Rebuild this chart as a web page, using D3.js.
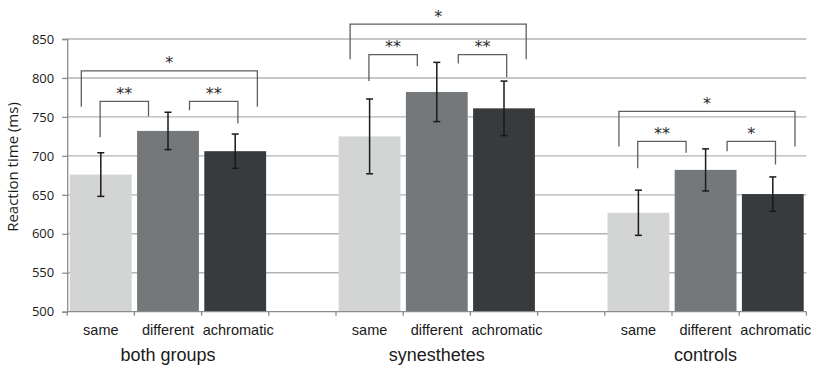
<!DOCTYPE html>
<html>
<head>
<meta charset="utf-8">
<script src="https://cdn.jsdelivr.net/npm/d3@7"></script>
<style>
  html, body { margin: 0; padding: 0; background: #fff; }
  svg { display: block; }
</style>
</head>
<body>
<div id="chart"></div>
<script>
// ---------------- data ----------------
const groups = ["both groups", "synesthetes", "controls"];
const conditions = ["same", "different", "achromatic"];
const bothMeans = [676, 732, 706];
const bothErrors = [28, 24, 22];
const synMeans = [725, 782, 761];
const synErrors = [48, 38, 35];
const ctrlMeans = [627, 682, 651];
const ctrlErrors = [29, 27, 22];
const yTicks = [500, 550, 600, 650, 700, 750, 800, 850];
const yLabel = "Reaction time (ms)";

// significance brackets: [group, from condition, to condition, label, bar level, left leg end, right leg end]
const bracketGroup = [0, 0, 0, 1, 1, 1, 2, 2, 2];
const bracketFrom = [0, 0, 1, 0, 0, 1, 0, 0, 1];
const bracketTo = [2, 1, 2, 2, 1, 2, 2, 1, 2];
const bracketLabel = ["*", "**", "**", "*", "**", "**", "*", "**", "*"];
const bracketLevel = [809, 770, 770, 869, 830, 830, 757, 718.5, 718.5];
const bracketLeftEnd = [763, 724, 758.5, 824, 796, 818.5, 712, 684, 706];
const bracketRightEnd = [763, 751, 741.5, 824, 815, 801, 712, 704, 689];

// ---------------- layout ----------------
const W = 816, H = 368;
const mLeft = 67.2, mRight = 806.4, mTop = 39, mBottom = 311.7;
const colors = ["#d3d5d4", "#75787b", "#383b3e"];

const svg = d3.select("#chart").append("svg")
  .attr("width", W).attr("height", H)
  .style("background", "#fff");

const means = [bothMeans, synMeans, ctrlMeans];
const errs = [bothErrors, synErrors, ctrlErrors];

// 11 category slots: 3 bars, gap, 3 bars, gap, 3 bars
const slots = [];
groups.forEach((g, gi) => {
  conditions.forEach((c, ci) => slots.push(gi + "-" + ci));
  if (gi < groups.length - 1) slots.push("gap" + gi);
});

const x = d3.scaleBand().domain(slots).range([mLeft, mRight])
  .paddingInner(0.08).paddingOuter(0.04);
const step = x.step();
const slotStart = k => x(k) - step * 0.04;

const y = d3.scaleLinear().domain([500, 850]).range([mBottom, mTop]);

// gridlines
svg.append("g").selectAll("line")
  .data(yTicks.filter(t => t > 500))
  .join("line")
  .attr("x1", mLeft).attr("x2", mRight)
  .attr("y1", d => y(d)).attr("y2", d => y(d))
  .attr("stroke", "#b3b3b3").attr("stroke-width", 1.4);

// bars
const barData = [];
groups.forEach((g, gi) => conditions.forEach((c, ci) => {
  barData.push({ key: gi + "-" + ci, gi, ci, v: means[gi][ci], e: errs[gi][ci] });
}));

svg.append("g").selectAll("rect")
  .data(barData).join("rect")
  .attr("x", d => x(d.key))
  .attr("width", x.bandwidth())
  .attr("y", d => y(d.v))
  .attr("height", d => y(500) - y(d.v))
  .attr("fill", d => colors[d.ci]);

// y axis
const yAxis = svg.append("g").attr("transform", `translate(${mLeft},0)`)
  .call(d3.axisLeft(y).tickValues(yTicks).tickSize(5).tickPadding(8).tickFormat(d3.format("d")));
yAxis.select(".domain").attr("stroke", "#8c8c8c").attr("stroke-width", 1.3);
yAxis.selectAll(".tick line").attr("stroke", "#8c8c8c").attr("stroke-width", 1.3);
yAxis.selectAll(".tick text")
  .attr("font-family", "'Open Sans', sans-serif").attr("font-size", 13).attr("fill", "#1a1a1a");

// x axis line + boundary ticks
svg.append("line")
  .attr("x1", mLeft).attr("x2", mRight).attr("y1", y(500)).attr("y2", y(500))
  .attr("stroke", "#8c8c8c").attr("stroke-width", 1.3);
const boundaries = slots.map(k => slotStart(k)).concat([mRight]);
svg.append("g").selectAll("line").data(boundaries).join("line")
  .attr("x1", d => d).attr("x2", d => d)
  .attr("y1", y(500)).attr("y2", y(500) + 4)
  .attr("stroke", "#8c8c8c").attr("stroke-width", 1.3);

// error bars
const eb = svg.append("g").attr("stroke", "#1a1a1a").attr("stroke-width", 1.5);
barData.forEach(d => {
  const cx = x(d.key) + x.bandwidth() / 2;
  eb.append("line").attr("x1", cx).attr("x2", cx).attr("y1", y(d.v + d.e)).attr("y2", y(d.v - d.e));
  [d.v + d.e, d.v - d.e].forEach(v => {
    eb.append("line").attr("x1", cx - 3.5).attr("x2", cx + 3.5).attr("y1", y(v)).attr("y2", y(v));
  });
});

// category labels
svg.append("g").selectAll("text").data(barData).join("text")
  .attr("x", d => x(d.key) + x.bandwidth() / 2 + (d.ci === 2 ? 3 : 0))
  .attr("y", 335)
  .attr("text-anchor", "middle")
  .attr("font-family", "'Liberation Sans', Arial, sans-serif")
  .attr("font-size", 14.5).attr("fill", "#1a1a1a")
  .text(d => conditions[d.ci]);

// group labels
svg.append("g").selectAll("text").data(groups).join("text")
  .attr("x", (g, gi) => (slotStart(gi + "-0") + slotStart(gi + "-2") + step) / 2)
  .attr("y", 361)
  .attr("text-anchor", "middle")
  .attr("font-family", "'Liberation Sans', Arial, sans-serif")
  .attr("font-size", 18).attr("fill", "#1a1a1a")
  .text(d => d);

// y label
svg.append("text")
  .attr("transform", `translate(18,167) rotate(-90)`)
  .attr("text-anchor", "middle")
  .attr("font-family", "'Open Sans', sans-serif")
  .attr("font-size", 15).attr("fill", "#1a1a1a")
  .text(yLabel);

// significance brackets
// leg positions inside a slot (fraction of slot width), by bracket span
const legFrac = (from, to) => {
  if (from === 0 && to === 2) return [0.21, 0.83];
  if (from === 0 && to === 1) return [0.49, 0.21];
  return [0.82, 0.54];
};
const br = svg.append("g");
bracketLabel.forEach((lab, i) => {
  const gi = bracketGroup[i];
  const [fa, fb] = legFrac(bracketFrom[i], bracketTo[i]);
  const x1 = slotStart(gi + "-" + bracketFrom[i]) + fa * step;
  const x2 = slotStart(gi + "-" + bracketTo[i]) + fb * step;
  const yl = y(bracketLevel[i]);
  br.append("path")
    .attr("d", `M${x1},${y(bracketLeftEnd[i])}V${yl}H${x2}V${y(bracketRightEnd[i])}`)
    .attr("fill", "none").attr("stroke", "#5e5e5e").attr("stroke-width", 1.3);
  br.append("text")
    .attr("x", (x1 + x2) / 2).attr("y", yl - 2.5)
    .attr("text-anchor", "middle")
    .attr("font-family", "'DejaVu Sans', sans-serif")
    .attr("font-size", 16).attr("fill", "#2a2a2a")
    .text(lab);
});
</script>
</body>
</html>
